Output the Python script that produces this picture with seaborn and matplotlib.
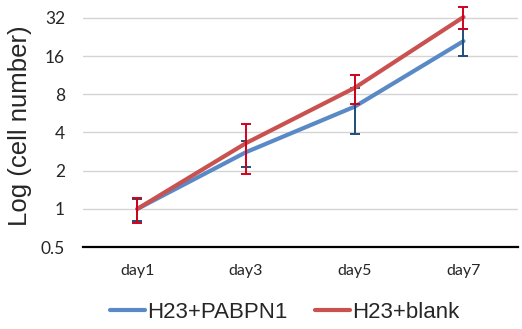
import matplotlib
matplotlib.use("Agg")
import matplotlib.pyplot as plt
import matplotlib.ticker as mticker
import numpy as np
import pandas as pd
import seaborn as sns

# data
days = ["day1", "day3", "day5", "day7"]
pabpn1 = [1.0, 2.8, 6.4, 21.0]
pabpn1_err = [0.2, 0.65, 2.5, 5.0]
blank = [1.0, 3.3, 9.0, 32.5]
blank_err = [0.22, 1.4, 2.3, 6.5]
y_ticks = [0.5, 1, 2, 4, 8, 16, 32]

series = ["H23+PABPN1", "H23+blank"]
line_colors = ["#5A8AC6", "#C9514F"]
err_colors = ["#1F4E79", "#D0021B"]

df = pd.DataFrame({
    "day": days * 2,
    "value": pabpn1 + blank,
    "series": [series[0]] * 4 + [series[1]] * 4,
})

sns.set_style("white")
plt.rcParams["font.family"] = ["Liberation Sans", "DejaVu Sans"]

fig = plt.figure(figsize=(5.22, 3.29), dpi=100)
ax = fig.add_axes([0.159, 0.249, 0.833, 0.736])

ax.set_yscale("log", base=2)
ax.set_ylim(0.5, 40.5)
ax.set_yticks(y_ticks)
ax.yaxis.set_major_formatter(mticker.FuncFormatter(lambda v, p: f"{v:g}"))
ax.yaxis.set_minor_locator(mticker.NullLocator())
ax.grid(axis="y", color="#D4D4D4", linewidth=1.0)
ax.set_axisbelow(True)

x = np.arange(len(days))
for i, (vals, errs) in enumerate([(pabpn1, pabpn1_err), (blank, blank_err)]):
    sub = df[df["series"] == series[i]]
    sns.lineplot(data=sub, x="day", y="value", ax=ax, color=line_colors[i],
                 linewidth=3.0, label=series[i], sort=False, zorder=3 + 2 * i)
    ax.errorbar(x, vals, yerr=errs, fmt="none", ecolor=err_colors[i],
                elinewidth=1.4, capsize=3.5, capthick=1.4, zorder=4 + 2 * i)

ax.set_xlim(-0.5, 3.5)
ax.set_xlabel("")
ax.set_ylabel("Log (cell number)", fontsize=18.5, labelpad=6)

for s in ["top", "right", "left"]:
    ax.spines[s].set_visible(False)
ax.spines["bottom"].set_color("black")
ax.spines["bottom"].set_linewidth(1.6)

ax.tick_params(axis="y", length=0, pad=13, labelsize=12.5)
ax.tick_params(axis="x", length=0, pad=12, labelsize=11.5)
for lab in ax.get_xticklabels() + ax.get_yticklabels():
    lab.set_family(["Lato", "DejaVu Sans"])

ax.legend(loc="center", bbox_to_anchor=(0.464, -0.27), ncol=2,
          frameon=False, fontsize=16, handlelength=1.6, handletextpad=0.1,
          columnspacing=1.2)

fig.savefig("out.png", dpi=100)
